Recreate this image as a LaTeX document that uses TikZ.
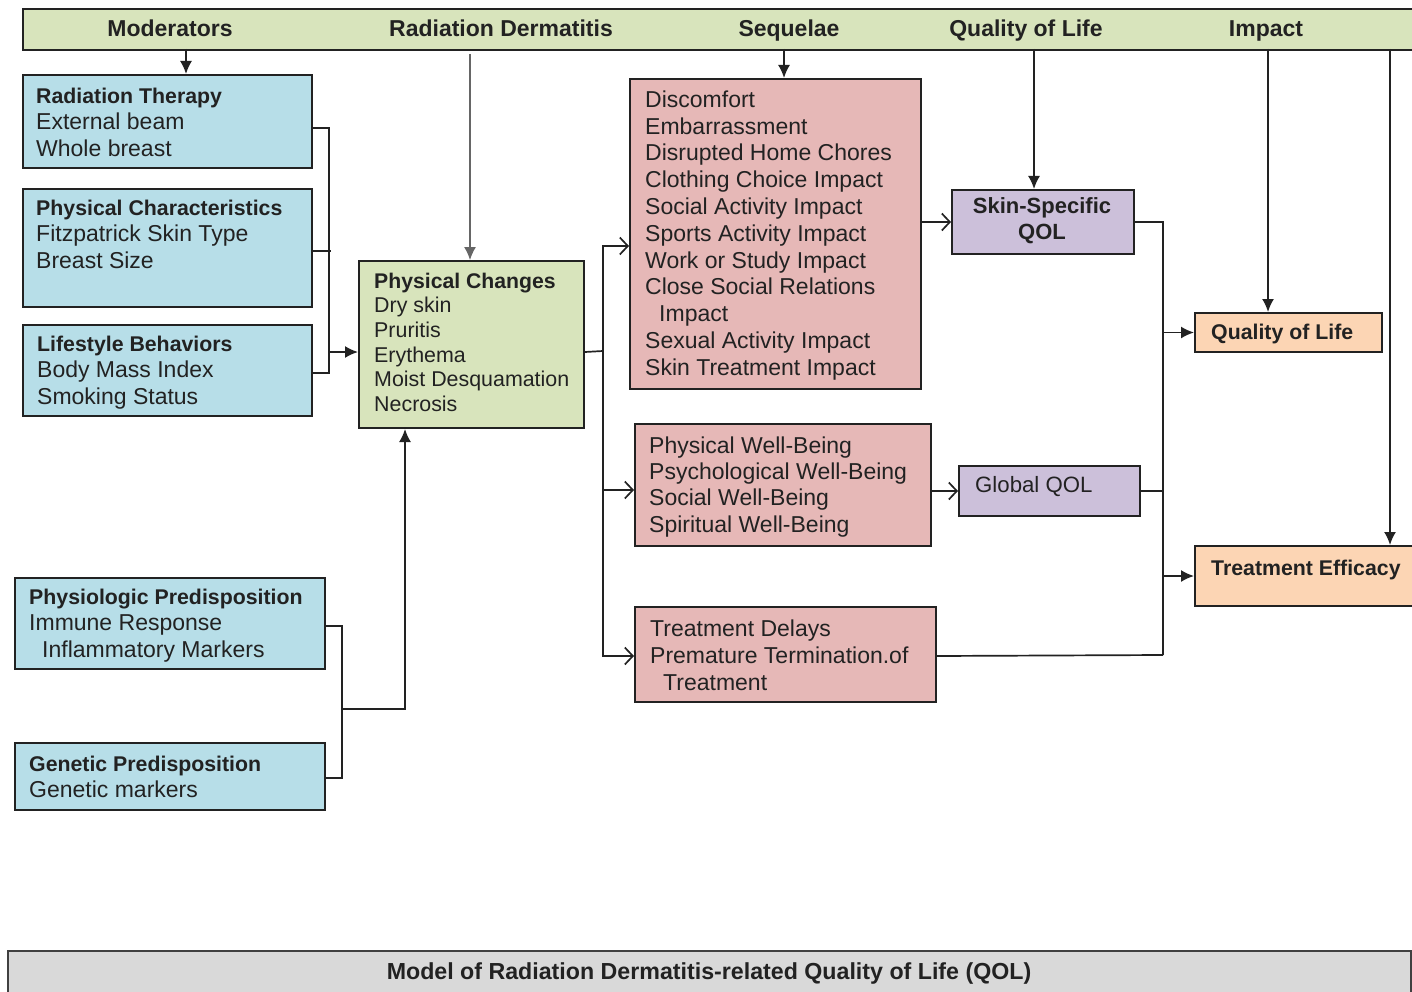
\documentclass[tikz,border=0pt]{standalone}
\usepackage{fontspec}
\setmainfont{Liberation Sans}
\usetikzlibrary{arrows.meta}
\definecolor{hdrc}{HTML}{D8E4BC}
\definecolor{bluc}{HTML}{B7DEE8}
\definecolor{seqc}{HTML}{E6B8B7}
\definecolor{purc}{HTML}{CCC0DA}
\definecolor{orgc}{HTML}{FCD5B4}
\definecolor{gryc}{HTML}{D9D9D9}
\definecolor{inkc}{HTML}{222222}
\newcommand{\myst}{\rule{0pt}{18.4pt}}
\newcommand{\mybd}{\fontsize{21.3}{26.6}\selectfont\bfseries}
\tikzset{
  box/.style={draw=inkc, line width=2pt, inner sep=0pt, anchor=north west},
  txt/.style={anchor=north west, inner sep=0pt, align=left, text=inkc},
  hlab/.style={anchor=base, inner sep=0pt, text=inkc, font=\fontsize{23}{26}\selectfont\bfseries},
  ln/.style={draw=inkc, line width=1.7pt},
  arrF/.style={ln, -{Latex[length=13pt,width=12pt]}},
  arrO/.style={ln, -{Straight Barb[length=8pt,width=17pt]}},
}
\begin{document}
\begin{tikzpicture}[x=1pt,y=-1pt]
\useasboundingbox (0,0) rectangle (1412,992);
\clip (0,0) rectangle (1412,992);
% header
\node[box, fill=hdrc, minimum width=1410, minimum height=41] (hdr) at (22,8) {};
\node[hlab] (h1) at (170,37) {Moderators};
\node[hlab] (h2) at (501,37) {Radiation Dermatitis};
\node[hlab] (h3) at (789,37) {Sequelae};
\node[hlab] (h4) at (1026,37) {Quality of Life};
\node[hlab] (h5) at (1266,37) {Impact};
\coordinate (a1) at (186,49);
\coordinate (a2) at (470,54);
\coordinate (a3) at (784,49);
\coordinate (a4) at (1034,49);
\coordinate (a5) at (1268,49);
\coordinate (a6) at (1390,49);
% moderators
\node[box, fill=bluc, minimum width=289, minimum height=93] (rt) at (22,74) {};
\node[txt, font=\fontsize{23}{26.5}\selectfont] (rt-t) at (36,84.6) {{\myst\mybd Radiation Therapy}\\External beam\\Whole breast};
\node[box, fill=bluc, minimum width=289, minimum height=118] (pcb) at (22,188) {};
\node[txt, font=\fontsize{23}{26.5}\selectfont] (pcb-t) at (36,196.6) {{\myst\mybd Physical Characteristics}\\Fitzpatrick Skin Type\\Breast Size};
\node[box, fill=bluc, minimum width=289, minimum height=91] (lb) at (22,324) {};
\node[txt, font=\fontsize{23}{26.5}\selectfont] (lb-t) at (37,332.6) {{\myst\mybd Lifestyle Behaviors}\\Body Mass Index\\Smoking Status};
\node[box, fill=bluc, minimum width=310, minimum height=91] (pp) at (14,577) {};
\node[txt, font=\fontsize{23}{26.5}\selectfont] (pp-t) at (29,585.6) {{\myst\mybd Physiologic Predisposition}\\Immune Response\\\hspace{13pt}Inflammatory Markers};
\node[box, fill=bluc, minimum width=310, minimum height=67] (gp) at (14,742) {};
\node[txt, font=\fontsize{23}{26.5}\selectfont] (gp-t) at (29,752.6) {{\myst\mybd Genetic Predisposition}\\Genetic markers};
% physical changes
\node[box, fill=hdrc, minimum width=225, minimum height=167] (phc) at (358,260) {};
\node[txt, font=\fontsize{21.4}{24.6}\selectfont] (phc-t) at (374,269.6) {{\myst\fontsize{21.2}{24.6}\selectfont\bfseries Physical Changes}\\Dry skin\\Pruritis\\Erythema\\Moist Desquamation\\Necrosis};
% sequelae
\node[box, fill=seqc, minimum width=291, minimum height=310] (s1) at (629,78) {};
\node[txt, font=\fontsize{23}{26.8}\selectfont] (s1-t) at (645,88.6) {\myst Discomfort\\Embarrassment\\Disrupted Home Chores\\Clothing Choice Impact\\Social Activity Impact\\Sports Activity Impact\\Work or Study Impact\\Close Social Relations\\\hspace{14pt}Impact\\Sexual Activity Impact\\Skin Treatment Impact};
\node[box, fill=seqc, minimum width=296, minimum height=122] (s2) at (634,423) {};
\node[txt, font=\fontsize{23}{26.3}\selectfont] (s2-t) at (649,434.6) {\myst Physical Well-Being\\Psychological Well-Being\\Social Well-Being\\Spiritual Well-Being};
\node[box, fill=seqc, minimum width=301, minimum height=95] (s3) at (634,606) {};
\node[txt, font=\fontsize{23}{27}\selectfont] (s3-t) at (650,617.6) {\myst Treatment Delays\\Premature Termination.of\\\hspace{13pt}Treatment};
% QOL
\node[box, fill=purc, minimum width=182, minimum height=64] (sk) at (951,189) {};
\node[anchor=center, inner sep=0pt, align=center, text=inkc, font=\fontsize{22}{26}\selectfont\bfseries] (sk-t) at (1042,221) {Skin-Specific\\QOL};
\node[box, fill=purc, minimum width=181, minimum height=50] (gq) at (958,465) {};
\node[anchor=base west, inner sep=0pt, text=inkc, font=\fontsize{22.2}{26}\selectfont] (gq-t) at (975,492) {Global QOL};
% impact
\node[box, fill=orgc, minimum width=187, minimum height=39] (ql) at (1194,312) {};
\node[anchor=base west, inner sep=0pt, text=inkc, font=\fontsize{21.3}{26}\selectfont\bfseries] (ql-t) at (1211,339) {Quality of Life};
\node[box, fill=orgc, minimum width=226, minimum height=60] (te) at (1194,545) {};
\node[anchor=base west, inner sep=0pt, text=inkc, font=\fontsize{21.3}{26}\selectfont\bfseries] (te-t) at (1211,575) {Treatment Efficacy};
% footer
\node[box, fill=gryc, draw=black!75, minimum width=1403, minimum height=60] (ft) at (7,950) {};
\node[anchor=base, inner sep=0pt, text=inkc, font=\fontsize{23.2}{26}\selectfont\bfseries] (ft-t) at (709,979) {Model of Radiation Dermatitis-related Quality of Life (QOL)};
% header arrows
\draw[arrF] (a1) -- (a1 |- rt.north);
\draw[arrF, draw=black!60, line width=1.3pt] (a2) -- (a2 |- phc.north);
\draw[arrF] (a3) -- (a3 |- s1.north);
\draw[arrF] (a4) -- (a4 |- sk.north);
\draw[arrF] (a5) -- (a5 |- ql.north);
\draw[arrF] (a6) -- (a6 |- te.north);
% moderators to physical changes
\coordinate (bus1) at (329,352);
\draw[ln] ([yshift=-6.5pt]rt.east) -| (bus1);
\draw[ln] ([yshift=-2.5pt]lb.east) -| (bus1);
\draw[ln] ([yshift=-3pt]pcb.east) -- ++(18,0);
\draw[arrF] (bus1) -- (bus1 -| phc.west);
\coordinate (bus2) at (342,709);
\draw[ln] ([yshift=-2.5pt]pp.east) -| (bus2);
\draw[ln] ([yshift=-1.5pt]gp.east) -| (bus2);
\draw[arrF] (bus2) -| ([xshift=-66.5pt]phc.south);
% physical changes to sequelae
\coordinate (bus3) at (603,351);
\draw[ln] ([yshift=-7.5pt]phc.east) -- (bus3);
\draw[arrO] (bus3) |- ([yshift=-12pt]s1.west);
\draw[arrO] (bus3) |- ([yshift=-5pt]s2.west);
\draw[arrO] (bus3) |- ([yshift=-1.5pt]s3.west);
% sequelae to QOL
\draw[arrO] (s1.east |- sk.west) -- (sk.west);
\draw[arrO] (s2.east |- gq.west) -- (gq.west);
% QOL to impact
\coordinate (bus4) at (1163,655);
\draw[ln] (sk.east) -| (bus4);
\draw[ln] (gq.east) -- (gq.east -| bus4);
\draw[ln] ([yshift=-1.5pt]s3.east) -- (bus4);
\draw[arrF] (bus4 |- ql.west) -- (ql.west);
\draw[arrF] (bus4 |- te.west) -- (te.west);
\end{tikzpicture}
\end{document}
